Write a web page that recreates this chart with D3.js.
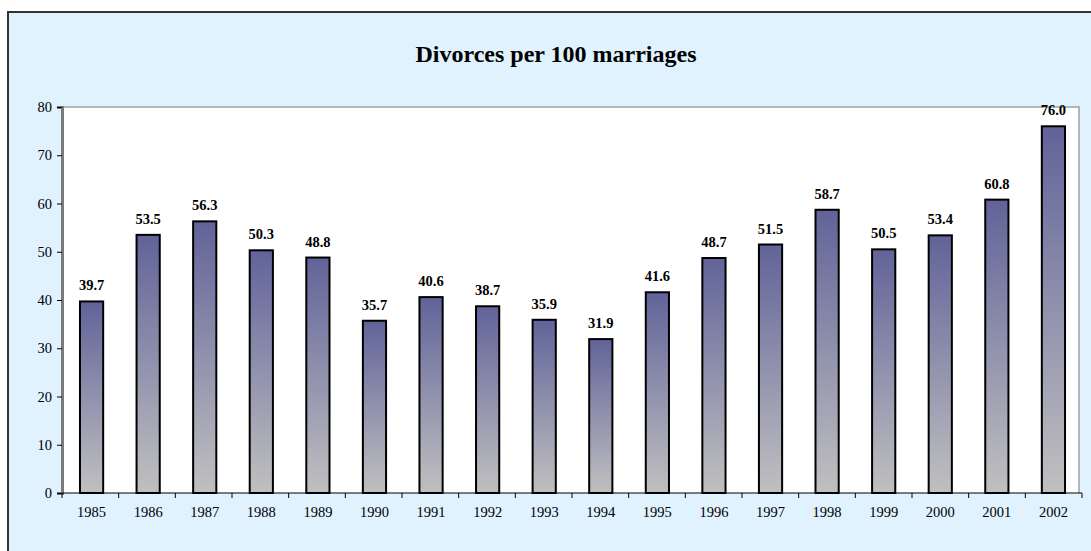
<!DOCTYPE html>
<html>
<head>
<meta charset="utf-8">
<script src="https://cdn.jsdelivr.net/npm/d3@7"></script>
<style>
  body { margin: 0; background: #ffffff; }
  svg { display: block; }
</style>
</head>
<body>
<div id="chart"></div>
<script>
// values
var years = ["1985", "1986", "1987", "1988", "1989", "1990", "1991", "1992", "1993",
    "1994", "1995", "1996", "1997", "1998", "1999", "2000", "2001", "2002"];
var divorces = [39.7, 53.5, 56.3, 50.3, 48.8, 35.7, 40.6, 38.7, 35.9,
    31.9, 41.6, 48.7, 51.5, 58.7, 50.5, 53.4, 60.8, 76.0];
var yTicks = [0, 10, 20, 30, 40, 50, 60, 70, 80];
var chartTitle = "Divorces per 100 marriages";

var width = 1091,
    height = 551;

var plot = { left: 63, right: 1082, top: 107, bottom: 493 };
var serif = "'Liberation Serif', 'Times New Roman', serif";

var svg = d3.select("#chart").append("svg")
    .attr("width", width)
    .attr("height", height);

// bar gradient, dark purple on top to grey at the bottom
var grad = svg.append("defs").append("linearGradient")
    .attr("id", "barGrad")
    .attr("x1", 0).attr("y1", 0)
    .attr("x2", 0).attr("y2", 1);
grad.append("stop").attr("offset", "0%").attr("stop-color", "#616399");
grad.append("stop").attr("offset", "100%").attr("stop-color", "#c0c0c0");

// outer chart area (frame is cut off at right and bottom)
svg.append("rect")
    .attr("x", 8).attr("y", 12)
    .attr("width", width + 20).attr("height", height + 20)
    .attr("fill", "#dff2fe")
    .attr("stroke", "#333333")
    .attr("stroke-width", 2);

svg.append("text")
    .attr("x", 556)
    .attr("y", 62)
    .attr("text-anchor", "middle")
    .style("font-family", serif)
    .style("font-weight", "bold")
    .style("font-size", "24px")
    .text(chartTitle);

var x = d3.scaleBand()
    .domain(years)
    .range([plot.left, plot.right])
    .paddingInner(0.59)
    .paddingOuter(0.3);

var xBand = d3.scaleBand()
    .domain(years)
    .range([plot.left - 1, plot.right]);

var y = d3.scaleLinear()
    .domain([0, 80])
    .range([plot.bottom, plot.top]);

// plot area
svg.append("rect")
    .attr("x", plot.left)
    .attr("y", plot.top)
    .attr("width", plot.right - 3 - plot.left)
    .attr("height", plot.bottom - plot.top)
    .attr("fill", "#ffffff");

svg.append("path")
    .attr("d", "M" + plot.left + "," + plot.top + "H" + (plot.right - 3) + "V" + plot.bottom)
    .attr("fill", "none")
    .attr("stroke", "#a0a0a0")
    .attr("stroke-width", 1.5);

// bars
svg.selectAll(".bar")
    .data(divorces)
    .enter().append("rect")
    .attr("class", "bar")
    .attr("x", function (d, i) { return x(years[i]); })
    .attr("y", function (d) { return y(d); })
    .attr("width", x.bandwidth())
    .attr("height", function (d) { return y(0) - y(d); })
    .attr("fill", "url(#barGrad)")
    .attr("stroke", "#000000")
    .attr("stroke-width", 2);

svg.selectAll(".lbl")
    .data(divorces)
    .enter().append("text")
    .attr("class", "lbl")
    .attr("x", function (d, i) { return x(years[i]) + x.bandwidth() / 2; })
    .attr("y", function (d) { return y(d) - 11; })
    .attr("text-anchor", "middle")
    .style("font-family", serif)
    .style("font-weight", "bold")
    .style("font-size", "14.5px")
    .text(function (d) { return d.toFixed(1); });

// y axis
var yAxis = svg.append("g")
    .attr("transform", "translate(" + (plot.left - 1) + ",0)")
    .call(d3.axisLeft(y).tickValues(yTicks).tickSize(5).tickPadding(5));
yAxis.select(".domain").attr("stroke", "#7a7a7a").attr("stroke-width", 3);
yAxis.selectAll(".tick line").attr("stroke", "#000000");
yAxis.selectAll("text")
    .style("font-family", serif)
    .style("font-size", "14.5px")
    .attr("fill", "#000000");

// x axis, ticks on category boundaries
var xAxis = svg.append("g")
    .attr("transform", "translate(0," + plot.bottom + ")");
xAxis.append("line")
    .attr("x1", plot.left - 1).attr("x2", plot.right)
    .attr("stroke", "#000000")
    .attr("stroke-width", 1.2);
xAxis.selectAll(".xt")
    .data(years.concat(["end"]))
    .enter().append("line")
    .attr("class", "xt")
    .attr("x1", function (d, i) { return i < years.length ? xBand(d) : plot.right; })
    .attr("x2", function (d, i) { return i < years.length ? xBand(d) : plot.right; })
    .attr("y1", 0).attr("y2", 5)
    .attr("stroke", "#000000");
xAxis.selectAll(".xl")
    .data(years)
    .enter().append("text")
    .attr("class", "xl")
    .attr("x", function (d) { return x(d) + x.bandwidth() / 2; })
    .attr("y", 24)
    .attr("text-anchor", "middle")
    .style("font-family", serif)
    .style("font-size", "14.5px")
    .text(function (d) { return d; });
</script>
</body>
</html>
